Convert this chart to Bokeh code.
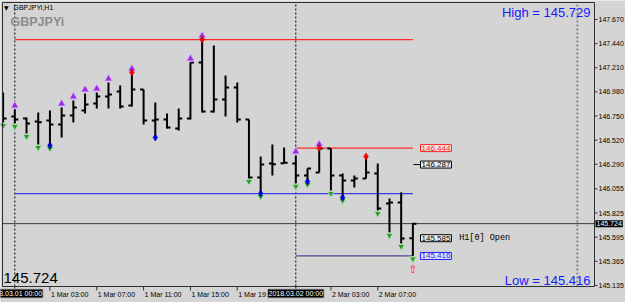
from bokeh.plotting import figure
from bokeh.models import Range1d, Label
from bokeh.core.properties import value
from bokeh.embed import file_html
from bokeh.resources import INLINE

# ---------------- data ----------------
symbol = "GBPJPYi"
period = "H1"
bar_index = list(range(36))  # 2018.02.28 23:00 ... 2018.03.02 10:00 (H1 bars)
open_ = [146.898, 146.745, 146.726, 146.698, 146.707, 146.669, 146.755, 146.803, 146.869, 146.936,
         146.984, 146.850, 147.003, 146.707, 146.717, 146.631, 146.726, 147.260, 146.793, 146.907,
         147.022, 146.717, 146.164, 146.297, 146.300, 146.297, 146.183, 146.211, 146.440, 146.183,
         146.135, 146.154, 146.202, 145.916, 145.925, 145.585]
high = [146.974, 146.812, 146.736, 146.783, 146.803, 146.831, 146.898, 146.965, 146.974, 147.069,
        147.041, 147.165, 147.003, 146.879, 146.774, 146.822, 147.260, 147.479, 147.422, 147.136,
        147.069, 146.717, 146.364, 146.478, 146.450, 146.374, 146.250, 146.444, 146.440, 146.202,
        146.183, 146.364, 146.297, 145.964, 146.024, 145.729]
low = [146.688, 146.679, 146.583, 146.478, 146.469, 146.545, 146.688, 146.774, 146.822, 146.822,
       146.822, 146.841, 146.669, 146.545, 146.631, 146.612, 146.717, 146.783, 146.783, 146.745,
       146.688, 146.154, 146.011, 146.183, 146.297, 146.107, 146.126, 146.211, 146.040, 145.973,
       146.068, 146.154, 145.849, 145.640, 145.535, 145.416]
close = [146.726, 146.717, 146.679, 146.690, 146.669, 146.755, 146.831, 146.860, 146.936, 146.955,
         146.841, 147.003, 146.707, 146.717, 146.641, 146.726, 147.260, 146.793, 146.907, 147.022,
         146.717, 146.164, 146.288, 146.290, 146.305, 146.183, 146.250, 146.440, 146.183, 146.135,
         146.154, 146.211, 145.868, 145.925, 145.582, 145.724]

up_signal_bars = [1, 5, 6, 7, 8, 9, 11, 16, 17, 25, 27]
down_signal_bars = [0, 1, 2, 3, 4, 21, 22, 25, 26, 28, 29, 32, 33, 34, 35]
fractal_up_bars = [11, 17, 27, 31]
fractal_down_bars = [4, 13, 22, 26, 29]

price_ticks = [147.670, 147.440, 147.210, 146.980, 146.750, 146.520, 146.290,
               146.055, 145.825, 145.595, 145.365, 145.135]
time_tick_bars = [4, 8, 12, 16, 20, 28, 32]
time_tick_labels = ["1 Mar 03:00", "1 Mar 07:00", "1 Mar 11:00", "1 Mar 15:00",
                    "1 Mar 19:00", "2 Mar 03:00", "2 Mar 07:00"]
day_bars = [1, 25]
day_labels = ["2018.03.01 00:00", "2018.03.02 00:00"]

bid = 145.724
day_high = 145.729
day_low = 145.416
level_top = 147.479      # from bar 1
level_bottom = 146.011   # from bar 1
level_high2 = 146.444    # from bar 25
level_low2 = 145.416     # from bar 25
level_mid = 146.287
h1_open = 145.585
last_bar = 35
future_line_bar = 49.05

# ---------------- layout (canvas pixel <-> data) ----------------
W, H = 625, 302
BG = "#d4d4d4"
X0, X1 = -0.22207, 53.1602          # bar index at canvas x = 0 and x = 625
Y0, Y1 = 144.97219, 147.85112       # price at canvas y = 302 and y = 0


def px2x(px):
    return X0 + px / W * (X1 - X0)


def px2y(py):
    return Y1 - py / H * (Y1 - Y0)


CL, CR = px2x(2), px2x(594)      # chart area left / right (price axis line)
CT, CB = px2y(2), px2y(286)      # chart area top / bottom

p = figure(width=W, height=H, x_range=Range1d(X0, X1), y_range=Range1d(Y0, Y1),
           output_backend="svg", toolbar_location=None,
           x_axis_location=None, y_axis_location=None,
           min_border=0, min_border_left=0, min_border_right=0, min_border_top=0, min_border_bottom=0,
           background_fill_color=BG, border_fill_color=BG, outline_line_color=None)
p.xgrid.visible = False
p.ygrid.visible = False

FRAME = "#303030"
font = value("Liberation Sans")

# separators
p.segment(x0=day_bars, y0=[CB] * len(day_bars), x1=day_bars, y1=[CT] * len(day_bars),
          line_color="black", line_dash="2 2", line_width=1)
p.segment(x0=[future_line_bar], y0=[CB], x1=[future_line_bar], y1=[CT],
          line_color="#8a8a8a", line_dash="2 2", line_width=2)

# levels
p.segment(x0=[1], y0=[level_top], x1=[last_bar], y1=[level_top], line_color="#ff2a2a", line_width=1.2)
p.segment(x0=[1], y0=[level_bottom], x1=[last_bar], y1=[level_bottom], line_color="#3a3ae6", line_width=1.2)
p.segment(x0=[25], y0=[level_high2], x1=[last_bar], y1=[level_high2], line_color="#ff2a2a", line_width=1.2)
p.segment(x0=[25], y0=[level_low2 - 0.009], x1=[last_bar], y1=[level_low2 - 0.009], line_color="#f4ecc0", line_width=1)
p.segment(x0=[25], y0=[level_low2], x1=[last_bar], y1=[level_low2], line_color="#1a1a90", line_width=1)
p.segment(x0=[CL], y0=[bid], x1=[CR], y1=[bid], line_color="#3a3a3a", line_width=1)
p.segment(x0=[last_bar + 0.05], y0=[level_mid], x1=[last_bar + 0.65], y1=[level_mid], line_color="black", line_width=1)

# OHLC bars
tick = 0.3
p.segment(x0=bar_index, y0=low, x1=bar_index, y1=high, line_color="black", line_width=2)
p.segment(x0=[max(i - tick, CL) for i in bar_index], y0=open_, x1=bar_index, y1=open_, line_color="black", line_width=2)
p.segment(x0=bar_index, y0=close, x1=[i + tick for i in bar_index], y1=close, line_color="black", line_width=2)

# signals
p.scatter(x=up_signal_bars, y=[high[i] + 0.036 for i in up_signal_bars], marker="triangle",
          size=8, fill_color="#9a2ee0", line_color="#d9b6f5", line_width=1)
p.scatter(x=down_signal_bars, y=[low[i] - 0.028 for i in down_signal_bars], marker="inverted_triangle",
          size=7, fill_color="#2c9c2c", line_color="#b4e0b4", line_width=1)
p.scatter(x=fractal_up_bars, y=[high[i] for i in fractal_up_bars], marker="diamond",
          size=7, fill_color="#ff0000", line_color="#b00000", line_width=0.5)
p.scatter(x=fractal_down_bars, y=[low[i] for i in fractal_down_bars], marker="diamond",
          size=7, fill_color="#0000ee", line_color="#000080", line_width=0.5)
p.text(x=[last_bar], y=[low[last_bar] - 0.125], text=["\u21e7"], text_color="#ff2020",
       text_font=value("DejaVu Sans"), text_font_size="11px", text_align="center", text_baseline="middle")

# chart frame
p.segment(x0=[CL, CL, CL, CR], y0=[CB, CT, CB, CB], x1=[CL, CR, CR, CR], y1=[CT, CT, CB, CT],
          line_color=FRAME, line_width=1)

# price axis (right)
p.segment(x0=[CR] * len(price_ticks), y0=price_ticks, x1=[px2x(597)] * len(price_ticks), y1=price_ticks,
          line_color=FRAME, line_width=1)
p.text(x=[px2x(598)] * len(price_ticks), y=price_ticks, text=[f"{t:.3f}" for t in price_ticks],
       text_color="black", text_font=font, text_font_size="7px", text_align="left", text_baseline="middle")

# time axis (bottom)
all_ticks = time_tick_bars + day_bars
p.segment(x0=all_ticks, y0=[CB] * len(all_ticks), x1=all_ticks, y1=[px2y(290)] * len(all_ticks),
          line_color=FRAME, line_width=1)
p.text(x=time_tick_bars, y=[px2y(293.5)] * len(time_tick_bars), text=time_tick_labels, x_offset=1,
       text_color="black", text_font=font, text_font_size="7px", text_align="left", text_baseline="middle")
for b, t in zip(day_bars, day_labels):
    p.add_layout(Label(x=b, y=px2y(293), text=t, text_color="white",
                       text_font="Liberation Sans", text_font_size="7px",
                       text_align="center", text_baseline="middle",
                       background_fill_color="black", border_line_color="#b0b0b0", padding=1))

# bid box on price axis
p.add_layout(Label(x=px2x(595), y=bid, text=f"{bid:.3f}", text_color="white",
                   text_font="Liberation Sans", text_font_size="7px",
                   text_align="left", text_baseline="middle",
                   background_fill_color="black", padding=1))

# boxed price labels
box_x = last_bar + 0.65
for txt_val, col, fill in [(level_high2, "#ff2020", "#f2e4e4"), (level_mid, "black", "#f0f0f0"),
                            (h1_open, "black", "#f0f0f0"), (level_low2, "#2020ff", "#e6e6f4")]:
    p.add_layout(Label(x=box_x, y=txt_val, text=f"{txt_val:.3f}", text_color=col,
                       text_font="Liberation Sans", text_font_size="8px",
                       text_align="left", text_baseline="middle",
                       background_fill_color=fill, border_line_color=col, border_line_width=1,
                       padding=1))
p.add_layout(Label(x=last_bar + 3.95, y=h1_open, text=f"{period}[0] Open", text_color="black",
                   text_font="Liberation Mono", text_font_size="8.5px",
                   text_align="left", text_baseline="middle"))

# header texts
p.add_layout(Label(x=px2x(3.5), y=px2y(6.5), text="\u25bc", text_color="black",
                   text_font="DejaVu Sans", text_font_size="6px",
                   text_align="left", text_baseline="middle"))
p.add_layout(Label(x=px2x(13), y=px2y(6.5), text=f"{symbol},{period}", text_color="black",
                   text_font="Liberation Sans", text_font_size="7px",
                   text_align="left", text_baseline="middle"))
p.add_layout(Label(x=px2x(10), y=px2y(21.5), text=symbol, text_color="#8c8c8c",
                   text_font="Liberation Sans", text_font_style="bold", text_font_size="12.5px",
                   text_align="left", text_baseline="middle"))
p.add_layout(Label(x=px2x(590), y=px2y(11.5), text=f"High = {day_high:.3f}", text_color="#1a1aff",
                   text_font="Liberation Sans", text_font_size="13px",
                   text_align="right", text_baseline="middle"))
p.add_layout(Label(x=px2x(590), y=px2y(279.5), text=f"Low = {day_low:.3f}", text_color="#1a1aff",
                   text_font="Liberation Sans", text_font_size="13px",
                   text_align="right", text_baseline="middle"))
p.add_layout(Label(x=px2x(3), y=px2y(277.5), text=f"{bid:.3f}", text_color="black",
                   text_font="Liberation Sans", text_font_size="15px",
                   text_align="left", text_baseline="middle"))

open("out.html", "w").write(file_html(p, INLINE))
